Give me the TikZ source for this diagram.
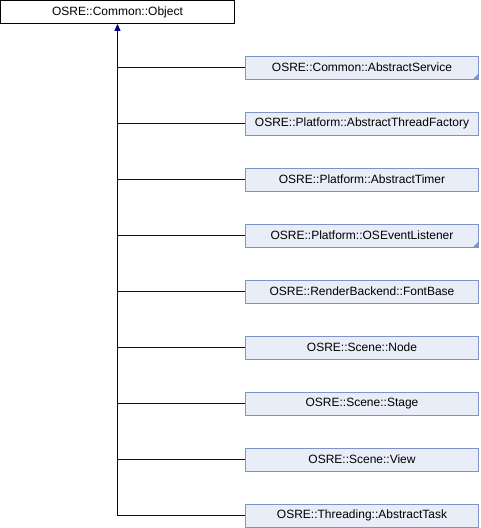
\documentclass[tikz,border=0pt]{standalone}
\usepackage{fontspec}
\setmainfont{Liberation Sans}
\usetikzlibrary{arrows.meta}
\definecolor{boxfill}{RGB}{232,237,247}
\definecolor{boxline}{RGB}{124,149,198}
\definecolor{edge}{RGB}{0,0,128}
\tikzset{
  cls/.style={draw=boxline, fill=boxfill, line width=0.8pt, minimum width=233pt, minimum height=23pt, inner sep=0pt, font=\fontsize{12}{13}\selectfont},
  rootcls/.style={draw=black, fill=white, line width=0.8pt, minimum width=234pt, minimum height=23pt, inner sep=0pt, font=\fontsize{12}{13}\selectfont},
  link/.style={draw=edge, line width=0.9pt},
}
\newcommand{\moremark}[1]{\fill[boxline] ([xshift=-0.6pt,yshift=0.6pt]#1.south east) -- ++(-5pt,0) -- ++(5pt,5pt) -- cycle;}
\begin{document}
\begin{tikzpicture}[x=1pt,y=-1pt]
\useasboundingbox (0,0) rectangle (480,528);
\node[rootcls] (root) at (117.5,12) {OSRE::Common::Object};
\node[cls] (c1) at (362,67.5) {OSRE::Common::AbstractService};
\node[cls] (c2) at (362,123.5) {OSRE::Platform::AbstractThreadFactory};
\node[cls] (c3) at (362,179.5) {OSRE::Platform::AbstractTimer};
\node[cls] (c4) at (362,235.5) {OSRE::Platform::OSEventListener};
\node[cls] (c5) at (362,291.5) {OSRE::RenderBackend::FontBase};
\node[cls] (c6) at (362,347.5) {OSRE::Scene::Node};
\node[cls] (c7) at (362,403.5) {OSRE::Scene::Stage};
\node[cls] (c8) at (362,459.5) {OSRE::Scene::View};
\node[cls] (c9) at (362,515.5) {OSRE::Threading::AbstractTask};
\moremark{c1}
\moremark{c4}
\foreach \c in {c1,c2,c3,c4,c5,c6,c7,c8}{
  \draw[link] (\c.west) -- (\c.west -| root.south);
}
\draw[link, -{Triangle[width=6pt,length=7pt]}] (c9.west) -| (root.south);
\end{tikzpicture}
\end{document}
